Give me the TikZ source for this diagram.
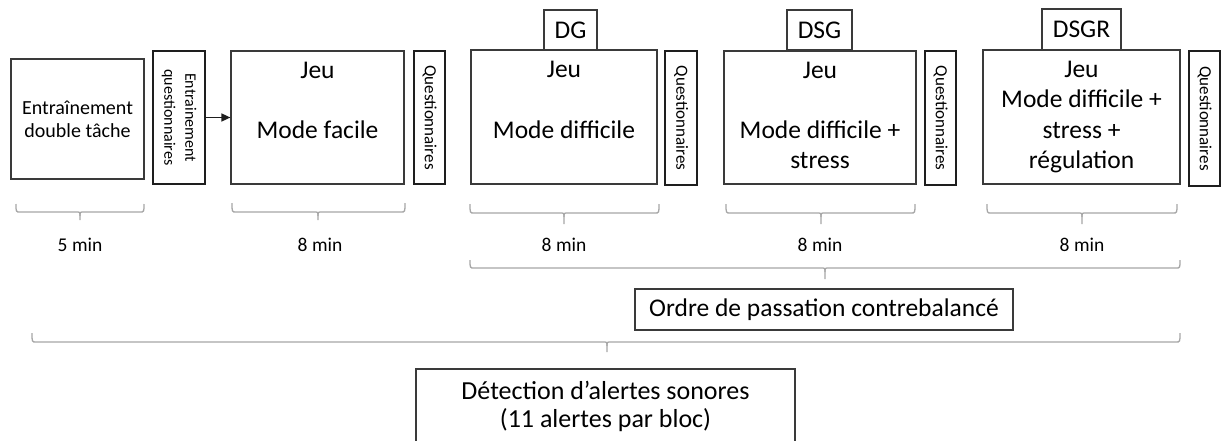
\documentclass[tikz,border=0pt]{standalone}
\usepackage{fontspec}
\setmainfont{Carlito}
\usepackage{graphicx}
\usetikzlibrary{arrows.meta}
\definecolor{boxc}{HTML}{3A3A3A}
\definecolor{qc}{HTML}{1E1E1E}
\definecolor{bracec}{HTML}{A6A6A6}
\newcommand\mybrace[6]{%
  \draw[brc] (#1,#4) .. controls (#1,#5) .. (#1+4,#5) -- (#3-4,#5) .. controls (#3,#5) .. (#3,#5+4) -- (#3,#6);
  \draw[brc] (#3,#5+4) .. controls (#3,#5) .. (#3+4,#5) -- (#2-4,#5) .. controls (#2,#5) .. (#2,#4);
}
\begin{document}
\begin{tikzpicture}[x=1pt,y=-1pt,
  box/.style={draw=boxc, line width=1.2pt, inner sep=0pt, align=center, font=\fontsize{25.5}{30}\selectfont},
  qbox/.style={draw=qc, line width=2pt, inner sep=0pt},
  tab/.style={draw=boxc, line width=1.2pt, inner sep=0pt, font=\fontsize{25.5}{30}\selectfont},
  brc/.style={draw=bracec, line width=1.3pt},
  lbl/.style={font=\fontsize{19.5}{23}\selectfont, inner sep=0pt}]
\useasboundingbox (0,0) rectangle (1222,441);

% first block
\node[box, font=\fontsize{20}{23}\selectfont, minimum width=133, minimum height=120] (b1) at (77.5,119) {Entraînement\\double tâche};
\node[qbox, minimum width=52, minimum height=133] (q1) at (179,117.5) {\rotatebox{-90}{\fontsize{16}{21}\selectfont\begin{tabular}{@{}c@{}}Entrainement\\questionnaires\end{tabular}}};

% game blocks
\node[box, minimum width=173, minimum height=133] (b2) at (317.5,117.5) {\strut Jeu\\\strut\\\strut Mode facile\\\strut};
\node[qbox, minimum width=31, minimum height=133] (q2) at (429.5,117.5) {\rotatebox{-90}{\fontsize{17}{20}\selectfont Questionnaires}};

\node[box, minimum width=186, minimum height=134] (b3) at (564,117) {\strut Jeu\\\strut\\\strut Mode difficile\\\strut};
\node[tab, minimum width=53, minimum height=40] (t3) at (570.5,30) {DG};
\node[qbox, minimum width=32, minimum height=134] (q3) at (681,118) {\rotatebox{-90}{\fontsize{17}{20}\selectfont Questionnaires}};

\node[box, minimum width=192, minimum height=133] (b4) at (820,117.5) {\strut Jeu\\\strut\\\strut Mode difficile +\\\strut stress};
\node[tab, minimum width=65, minimum height=40] (t4) at (819.5,30) {DSG};
\node[qbox, minimum width=31, minimum height=134] (q4) at (940.5,118) {\rotatebox{-90}{\fontsize{17}{20}\selectfont Questionnaires}};

\node[box, minimum width=197, minimum height=134] (b5) at (1081.5,117) {\strut Jeu\\\strut Mode difficile +\\\strut stress +\\\strut régulation};
\node[tab, minimum width=79, minimum height=41] (t5) at (1081.5,29.5) {DSGR};
\node[qbox, minimum width=31, minimum height=135] (q5) at (1204.5,118.5) {\rotatebox{-90}{\fontsize{17}{20}\selectfont Questionnaires}};

\draw[line width=1.5pt, qc, -{Triangle[length=9pt,width=8pt]}] (q1.east) -- (b2.west);

% braces and durations
\mybrace{16}{144}{80}{204}{212}{220}
\node[lbl] (m1) at (80,245) {5 min};
\mybrace{232}{405}{318}{203}{212}{220}
\node[lbl] (m2) at (320,245) {8 min};
\mybrace{470}{659}{564}{204}{213}{224}
\node[lbl] (m3) at (564,245) {8 min};
\mybrace{726}{915}{821}{204}{213}{224}
\node[lbl] (m4) at (820,245) {8 min};
\mybrace{987}{1177}{1082}{204}{213}{224}
\node[lbl] (m5) at (1082,245) {8 min};

\mybrace{470}{1180}{825}{260}{268}{279}
\node[box, minimum width=378, minimum height=41] (ord) at (824,309.5) {Ordre de passation contrebalancé};

\mybrace{32}{1180}{607}{333}{342}{352}
\node[box, minimum width=379, minimum height=74, font=\fontsize{26}{28}\selectfont] (det) at (605.5,406) {Détection d’alertes sonores\\(11 alertes par bloc)};
\end{tikzpicture}
\end{document}
